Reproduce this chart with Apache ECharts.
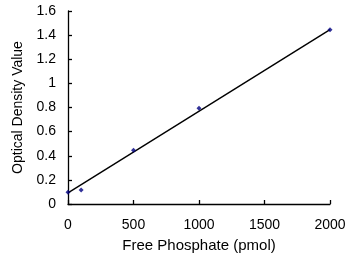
<!DOCTYPE html>
<html>
<head>
<meta charset="utf-8">
<script src="https://cdn.jsdelivr.net/npm/echarts@6/dist/echarts.min.js"></script>
<style>
  html, body { margin: 0; padding: 0; background: #fff; }
  #chart { width: 354px; height: 265px; }
</style>
</head>
<body>
<div id="chart"></div>
<script>
// standard curve points
const phosphate = [0, 100, 500, 1000, 2000];
const density = [0.097, 0.116, 0.445, 0.794, 1.445];
// linear fit endpoints
const fitX = [0, 2000];
const fitY = [0.092, 1.445];

const xTicks = { min: 0, max: 2000, interval: 500 };
const yTicks = { min: 0, max: 1.6, interval: 0.2 };

const chart = echarts.init(document.getElementById('chart'));

const axisCommon = {
    axisLine: { show: true, onZero: false, lineStyle: { color: '#000', width: 1.3 } },
    axisTick: { show: true, inside: true, length: 4, lineStyle: { color: '#000', width: 1.3 } },
    splitLine: { show: false },
    nameLocation: 'middle',
};

chart.setOption({
    animation: false,
    grid: { left: 68, right: 24, top: 11, bottom: 61 },
    xAxis: {
        ...axisCommon,
        type: 'value',
        min: xTicks.min,
        max: xTicks.max,
        interval: xTicks.interval,
        name: 'Free Phosphate (pmol)',
        nameGap: 34,
        nameTextStyle: { color: '#000', fontSize: 15, fontFamily: 'Liberation Sans' },
        axisLabel: {
            color: '#000', fontSize: 14, fontFamily: 'Liberation Sans', margin: 14,
            formatter: (v) => String(v),
        },
    },
    yAxis: {
        ...axisCommon,
        type: 'value',
        min: yTicks.min,
        max: yTicks.max,
        interval: yTicks.interval,
        name: 'Optical Density Value',
        nameGap: 43,
        nameTextStyle: { color: '#000', fontSize: 14, fontFamily: 'Liberation Sans' },
        axisLabel: {
            color: '#000', fontSize: 14, fontFamily: 'Liberation Sans', margin: 12,
            formatter: (v) => String(v),
        },
    },
    series: [
        {
            type: 'line',
            data: fitX.map((x, i) => [x, fitY[i]]),
            showSymbol: false,
            lineStyle: { color: '#000', width: 1.4 },
            z: 1,
        },
        {
            type: 'scatter',
            data: phosphate.map((x, i) => [x, density[i]]),
            symbol: 'diamond',
            symbolSize: 5,
            itemStyle: { color: '#000080' },
            z: 2,
        },
    ],
});
</script>
</body>
</html>
